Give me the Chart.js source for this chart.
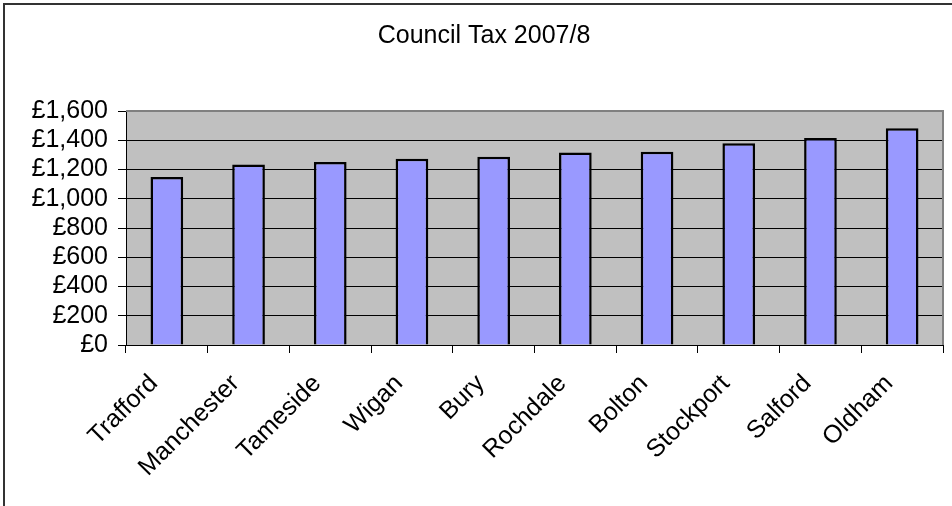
<!DOCTYPE html>
<html>
<head>
<meta charset="utf-8">
<script src="https://cdn.jsdelivr.net/npm/chart.js@4.4.1/dist/chart.umd.min.js"></script>
<style>
  html, body { margin: 0; padding: 0; background: #fff; }
  canvas { display: block; }
</style>
</head>
<body>
<canvas id="c" width="952" height="506"></canvas>
<script>
const chartTitle = "Council Tax 2007/8";
const categories = ["Trafford", "Manchester", "Tameside", "Wigan", "Bury", "Rochdale", "Bolton", "Stockport", "Salford", "Oldham"];
const councilTax = [1149, 1235, 1251, 1274, 1288, 1317, 1322, 1379, 1415, 1482];
const yTicks = [0, 200, 400, 600, 800, 1000, 1200, 1400, 1600];

const FONT = "'Liberation Sans', Arial, sans-serif";

const frame = {
  id: 'frame',
  beforeDraw(chart) {
    const { ctx, chartArea: a } = chart;
    ctx.save();
    ctx.fillStyle = '#C0C0C0';
    ctx.fillRect(a.left, a.top, a.right - a.left, a.bottom - a.top);
    ctx.restore();
  },
  beforeDatasetsDraw(chart) {
    const { ctx, chartArea: a } = chart;
    ctx.save();
    ctx.strokeStyle = '#808080';
    ctx.lineWidth = 2;
    ctx.beginPath();
    ctx.moveTo(a.left, a.top);
    ctx.lineTo(a.right, a.top);
    ctx.lineTo(a.right, a.bottom);
    ctx.stroke();
    ctx.restore();
  },
  afterDraw(chart) {
    const { ctx } = chart;
    ctx.save();
    ctx.strokeStyle = '#333333';
    ctx.lineWidth = 2;
    ctx.beginPath();
    ctx.moveTo(4, 506);
    ctx.lineTo(4, 4);
    ctx.lineTo(952, 4);
    ctx.stroke();
    ctx.restore();
  }
};

new Chart(document.getElementById('c'), {
  type: 'bar',
  data: {
    labels: categories,
    datasets: [{
      data: councilTax,
      backgroundColor: '#9999FF',
      borderColor: '#000000',
      borderWidth: 2.5,
      categoryPercentage: 1.0,
      barPercentage: 0.4
    }]
  },
  options: {
    responsive: false,
    animation: false,
    devicePixelRatio: 1,
    layout: { padding: { left: 25, right: 9, top: 0, bottom: 0 } },
    plugins: {
      legend: { display: false },
      tooltip: { enabled: false },
      title: {
        display: true,
        text: chartTitle,
        color: '#000',
        font: { family: FONT, size: 25, weight: 'normal', lineHeight: 1.2 },
        padding: { top: 21, bottom: 60 }
      }
    },
    scales: {
      x: {
        grid: {
          display: true,
          drawOnChartArea: false,
          drawTicks: true,
          tickLength: 8,
          color: '#000',
          tickColor: '#000',
          offset: true
        },
        border: { display: true, color: '#000', width: 1 },
        ticks: {
          color: '#000',
          font: { family: FONT, size: 25 },
          maxRotation: 45,
          minRotation: 45,
          padding: 16,
          labelOffset: -13,
          autoSkip: false
        },
        afterFit(scale) { scale.height = 161; }
      },
      y: {
        min: 0,
        max: 1600,
        afterBuildTicks(scale) { scale.ticks = yTicks.map(v => ({ value: v })); },
        grid: {
          display: true,
          drawTicks: true,
          tickLength: 8,
          color: '#000',
          tickColor: '#000'
        },
        border: { display: true, color: '#000', width: 1 },
        ticks: {
          color: '#000',
          font: { family: FONT, size: 25 },
          padding: 10,
          autoSkip: false,
          stepSize: 200,
          callback: v => '£' + Number(v).toLocaleString('en-GB')
        },
        afterFit(scale) { scale.width = 101; }
      }
    }
  },
  plugins: [frame]
});
</script>
</body>
</html>
